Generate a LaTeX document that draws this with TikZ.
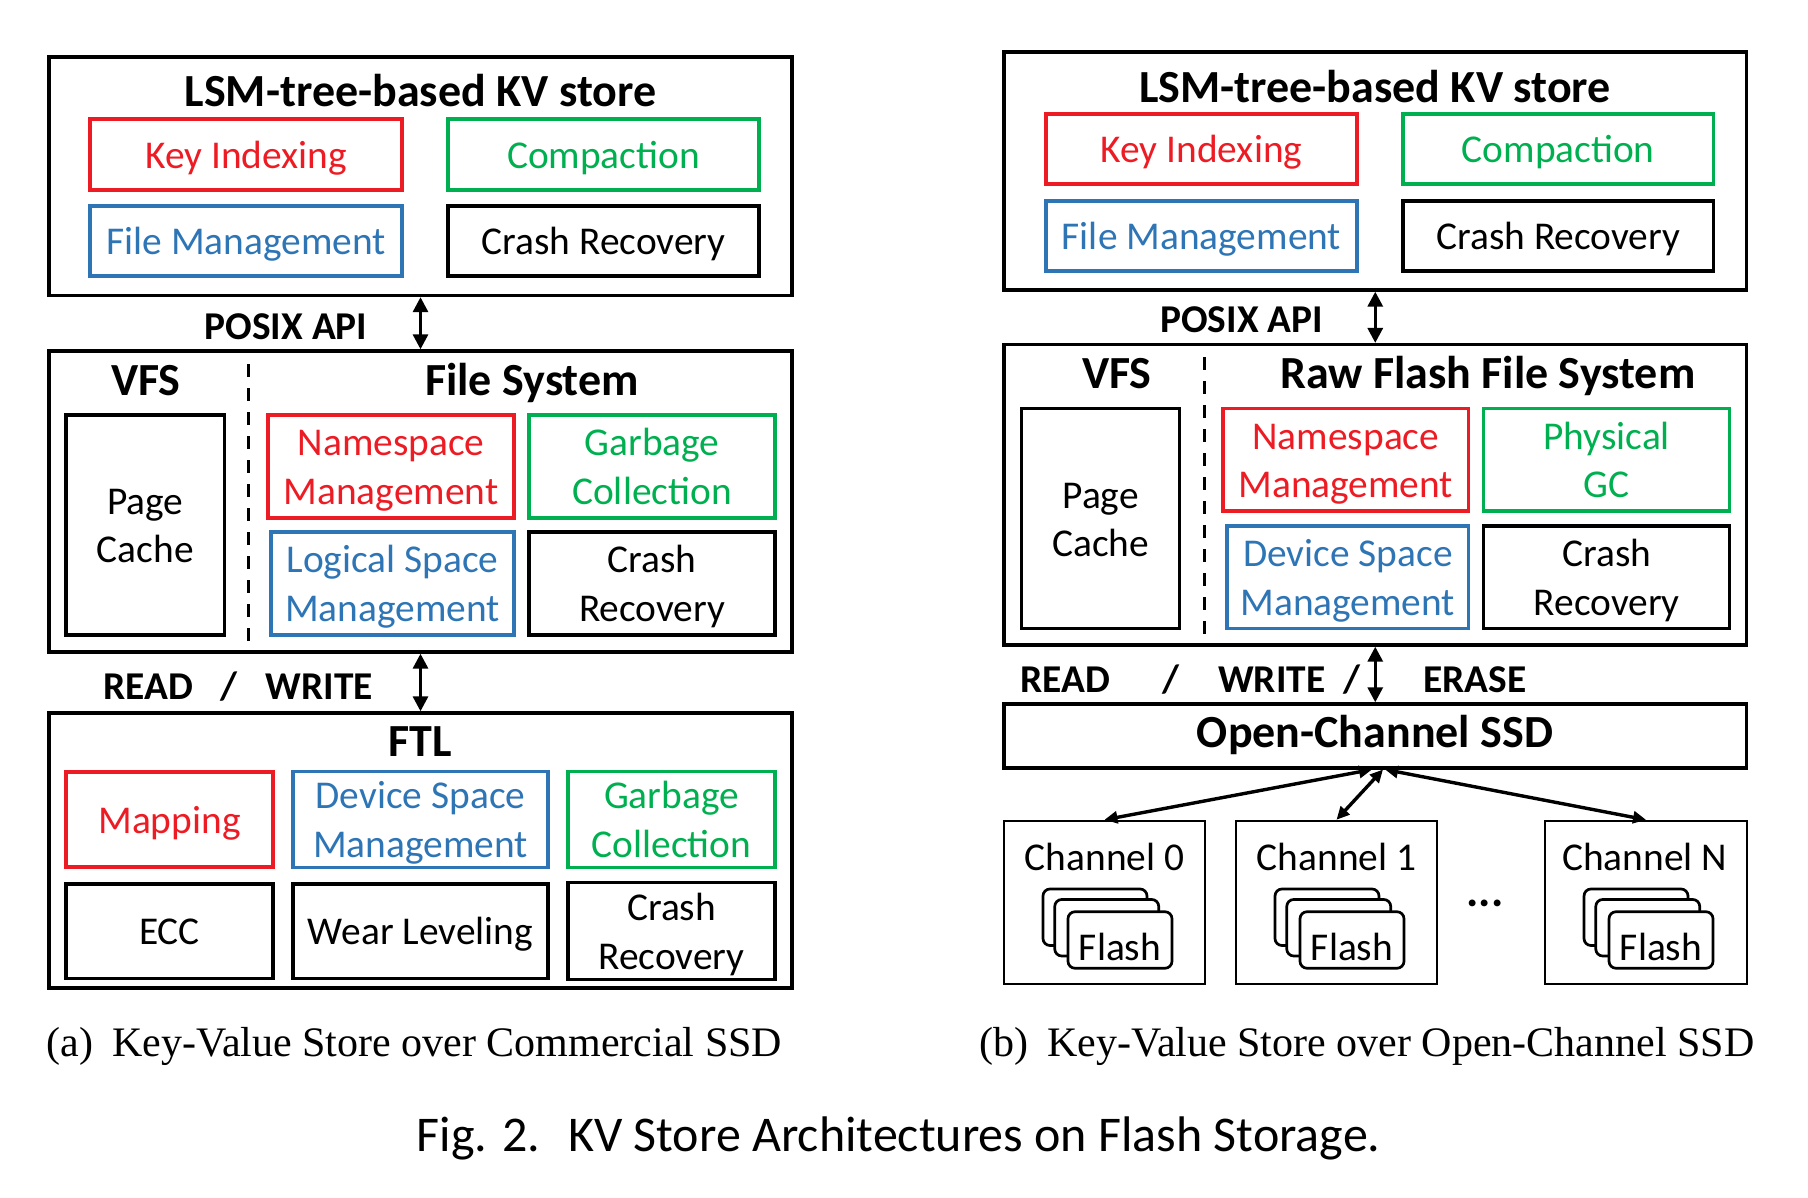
\documentclass[tikz,border=0pt]{standalone}
\usepackage{fontspec}
\newfontfamily\calfont{Carlito}
\newfontfamily\capserif{Liberation Serif}
\usetikzlibrary{arrows.meta}
\definecolor{kred}{RGB}{237,28,36}
\definecolor{kgreen}{RGB}{0,176,80}
\definecolor{kblue}{RGB}{46,117,182}
\newcommand\kvbody{\calfont\fontsize{19.7}{24.2}\selectfont}
\newcommand\kvtitle{\calfont\bfseries\fontsize{23}{27}\selectfont}
\newcommand\kvlabel{\calfont\bfseries\fontsize{19.7}{24}\selectfont}
\newcommand\kvsub{\capserif\fontsize{21}{25}\selectfont}
\newcommand\kvfig{\calfont\fontsize{25}{30}\selectfont}
\newcommand\kvtxt[1]{\raisebox{-2pt}[\height][\depth]{\begin{tabular}{@{}c@{}}#1\end{tabular}}}
\begin{document}
\begin{tikzpicture}[x=0.5pt,y=-0.5pt,
  sz/.style 2 args={minimum width=#1*0.5pt, minimum height=#2*0.5pt},
  outerbox/.style={draw, line width=1.7pt, inner sep=0pt},
  comp/.style={draw, line width=1.55pt, inner sep=0pt, font=\kvbody},
  redc/.style={comp, draw=kred, text=kred},
  greenc/.style={comp, draw=kgreen, text=kgreen},
  bluec/.style={comp, draw=kblue, text=kblue},
  blackc/.style={comp},
  ttl/.style={anchor=base, inner sep=0pt, font=\kvtitle},
  lbl/.style={anchor=base, inner sep=0pt, font=\kvlabel},
  bodytxt/.style={anchor=base, inner sep=0pt, font=\kvbody},
  api/.style={{Triangle[length=7.5pt,width=7.5pt]}-{Triangle[length=7.5pt,width=7.5pt]}, line width=1.6pt},
  chan/.style={{Triangle[length=6.5pt,width=6pt]}-{Triangle[length=6.5pt,width=6pt]}, line width=1.7pt},
  divider/.style={line width=1.5pt, dash pattern=on 6.5pt off 5.5pt},
  chbox/.style={draw, line width=1.25pt, inner sep=0pt},
  card/.style={draw, line width=1.35pt, fill=white, rounded corners=3.5pt, inner sep=0pt, minimum width=52pt, minimum height=28.25pt},
]
\useasboundingbox (0,0) rectangle (1808,1198);

% ================= (a) =================
\node[outerbox, sz={743}{238.5}] (lsmA) at (420.5,176.25) {};
\node[ttl] (lsmAt) at (420.5,107) {LSM-tree-based KV store};
\node[redc, sz={312}{71}] (kiA) at (246,154.5) {\kvtxt{Key Indexing}};
\node[greenc, sz={311}{71}] (cpA) at (603.5,154.5) {\kvtxt{Compaction}};
\node[bluec, sz={312}{70}] (fmA) at (246,241) {\kvtxt{File Management}};
\node[blackc, sz={311}{70}] (crA) at (603.5,241) {\kvtxt{Crash Recovery}};

\node[outerbox, sz={743}{301}] (fsA) at (420.5,501.5) {};
\node[ttl] (vfsA) at (146,395) {VFS};
\node[ttl] (fsAt) at (532,395) {File System};
\coordinate (dA1) at (248.5,364);
\coordinate (dA2) at (248.5,643);
\draw[divider] (dA1) -- (dA2);
\node[blackc, sz={158.5}{220}] (pcA) at (145.25,525) {\kvtxt{Page\\Cache}};
\node[redc, sz={246}{103}] (nsA) at (391,466.5) {\kvtxt{Namespace\\Management}};
\node[greenc, sz={246}{103}] (gcA) at (652,466.5) {\kvtxt{Garbage\\Collection}};
\node[bluec, sz={243}{103}] (lsA) at (392.5,583.5) {\kvtxt{Logical Space\\Management}};
\node[blackc, sz={246}{103}] (cr2A) at (652,583.5) {\kvtxt{Crash\\Recovery}};

\draw[api] (lsmA.south) -- (fsA.north);
\node[lbl] (posixA) at (286,339) {POSIX API};

\node[outerbox, sz={743}{275}] (ftl) at (420.5,850.5) {};
\node[ttl] (ftlt) at (420.5,756) {FTL};
\draw[api] (fsA.south) -- (ftl.north);
\node[lbl] (readA) at (148.6,699) {READ};
\node[lbl] (slA) at (229,699) {/};
\node[lbl] (writeA) at (319.5,699) {WRITE};

\node[redc, sz={207}{95}] (mapA) at (169.5,819.5) {\kvtxt{Mapping}};
\node[bluec, sz={255}{95}] (dsA) at (420.5,819.5) {\kvtxt{Device Space\\Management}};
\node[greenc, sz={207}{95}] (gc2A) at (671.5,819.5) {\kvtxt{Garbage\\Collection}};
\node[blackc, sz={207}{94.5}] (eccA) at (169.5,931.25) {\kvtxt{ECC}};
\node[blackc, sz={255}{94.5}] (wlA) at (420.5,931.25) {\kvtxt{Wear Leveling}};
\node[blackc, sz={207}{94.5}] (cr3A) at (671.5,931.25) {\kvtxt{Crash\\Recovery}};

\node[anchor=base, inner sep=0pt, font=\kvsub] (capA) at (414.5,1056) {(a)\hspace{0.45em}Key-Value Store over Commercial SSD};

% ================= (b) =================
\node[outerbox, sz={742.5}{238}] (lsmB) at (1375.25,171) {};
\node[ttl] (lsmBt) at (1375,103) {LSM-tree-based KV store};
\node[redc, sz={311}{70}] (kiB) at (1201.5,149) {\kvtxt{Key Indexing}};
\node[greenc, sz={310.5}{70}] (cpB) at (1558.25,149) {\kvtxt{Compaction}};
\node[bluec, sz={311}{70}] (fmB) at (1201.5,236) {\kvtxt{File Management}};
\node[blackc, sz={310.5}{70}] (crB) at (1558.25,236) {\kvtxt{Crash Recovery}};

\node[outerbox, sz={742.5}{300.4}] (fsB) at (1375.25,494.8) {};
\node[ttl] (vfsB) at (1117,388) {VFS};
\node[ttl] (fsBt) at (1487.7,388) {Raw Flash File System};
\coordinate (dB1) at (1204,357);
\coordinate (dB2) at (1204,636);
\draw[divider] (dB1) -- (dB2);
\node[blackc, sz={158.1}{220.1}] (pcB) at (1100.65,518.55) {\kvtxt{Page\\Cache}};
\node[redc, sz={245.6}{102.5}] (nsB) at (1345.8,459.75) {\kvtxt{Namespace\\Management}};
\node[greenc, sz={246.1}{102.5}] (pgB) at (1606.75,459.75) {\kvtxt{Physical\\GC}};
\node[bluec, sz={241.6}{102.6}] (dsB) at (1347.8,577.3) {\kvtxt{Device Space\\Management}};
\node[blackc, sz={246.1}{102.6}] (cr2B) at (1606.75,577.3) {\kvtxt{Crash\\Recovery}};

\draw[api] (lsmB.south) -- (fsB.north);
\node[lbl] (posixB) at (1241.6,332.5) {POSIX API};

\node[outerbox, sz={742.5}{64}] (ssd) at (1375.25,736) {};
\node[ttl] (ssdt) at (1375,747) {Open-Channel SSD};
\draw[api] (fsB.south) -- (ssd.north);
\node[lbl] (readB) at (1065,692) {READ};
\node[lbl] (slB1) at (1171,692) {/};
\node[lbl] (writeB) at (1271.8,692) {WRITE};
\node[lbl] (slB2) at (1351.6,692) {/};
\node[lbl] (eraseB) at (1475,692) {ERASE};

% channels
\node[chbox, sz={201}{163}] (ch0) at (1104.5,902.5) {};
\node[bodytxt] (ch0t) at (1104.5,870) {Channel 0};
\node[card] (f0a) at (1095,917.25) {};
\node[card] (f0b) at (1106.75,927.75) {};
\node[card] (f0c) at (1120,940) {};
\node[bodytxt] (f0t) at (1120,960) {Flash};

\node[chbox, sz={201}{163}] (ch1) at (1336.5,902.5) {};
\node[bodytxt] (ch1t) at (1336.5,870) {Channel 1};
\node[card] (f1a) at (1327,917.25) {};
\node[card] (f1b) at (1338.75,927.75) {};
\node[card] (f1c) at (1352,940) {};
\node[bodytxt] (f1t) at (1352,960) {Flash};

\node[chbox, sz={202}{163}] (chN) at (1646,902.5) {};
\node[bodytxt] (chNt) at (1644.7,870) {Channel N};
\node[card] (fNa) at (1636,917.25) {};
\node[card] (fNb) at (1647.75,927.75) {};
\node[card] (fNc) at (1661,940) {};
\node[bodytxt] (fNt) at (1661,960) {Flash};

\node[anchor=base, inner sep=0pt, font=\calfont\bfseries\fontsize{23}{27}\selectfont] (dots) at (1485,906) {...};

\coordinate (hub0) at (1372,769.5);
\coordinate (hub1) at (1383,769.5);
\coordinate (hubN) at (1385,769.5);
\draw[chan] (hub0) -- (ch0.north);
\draw[chan] (hub1) -- (ch1.north);
\draw[chan] (hubN) -- (chN.north);

\node[anchor=base, inner sep=0pt, font=\kvsub] (capB) at (1367,1056) {(b)\hspace{0.45em}Key-Value Store over Open-Channel SSD};

\node[anchor=base, inner sep=0pt, font=\kvfig] (figcap) at (898.8,1151) {Fig. 2.\hspace{0.55em}KV Store Architectures on Flash Storage.};
\end{tikzpicture}
\end{document}
